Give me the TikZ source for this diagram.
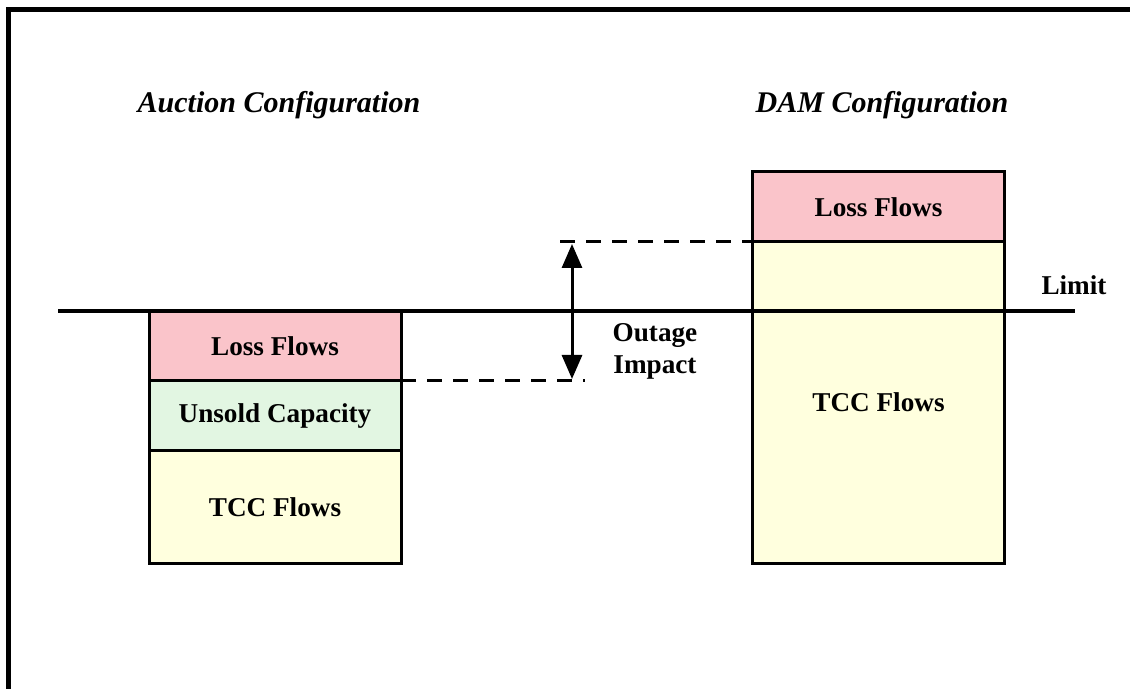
\documentclass[tikz,border=0pt]{standalone}
\usepackage{fontspec}
\setmainfont{Liberation Serif}
\usetikzlibrary{arrows.meta}

\definecolor{losspink}{RGB}{250,196,202}
\definecolor{unsoldgreen}{RGB}{226,246,226}
\definecolor{tccyellow}{RGB}{255,255,222}

\tikzset{
    flowbox/.style={draw, line width=1.5pt, inner sep=0pt, outer sep=0pt, minimum width=126pt,
        font=\fontsize{13.6}{16}\selectfont\bfseries},
    config/.style={font=\fontsize{15}{18}\selectfont\bfseries\itshape},
    marker/.style={line width=1.5pt, dash pattern=on 7.5pt off 5.5pt}
}

\begin{document}
\begin{tikzpicture}[x=0.5pt, y=-0.5pt]
        \useasboundingbox (0, 0) rectangle (1130, 689);
        \draw[line width=2.5pt] (1132, 9.8) to (8.5, 9.8) to (8.5, 692);

        %%titles
        \node[config] at(279, 105)(auction){Auction Configuration};
        \node[config] at(882, 105)(dam){DAM Configuration};

        %%bars
        \node[flowbox, fill=losspink, minimum height=34.5pt] at(275, 346.5)(lossA){Loss Flows};
        \node[flowbox, fill=unsoldgreen, minimum height=35pt] at(275, 416)(unsoldA){Unsold Capacity};
        \node[flowbox, fill=tccyellow, minimum height=56pt] at(275, 507)(tccA){TCC Flows};

        \node[flowbox, fill=losspink, minimum height=35pt] at(878.5, 207)(lossD){Loss Flows};
        \node[flowbox, fill=tccyellow, minimum height=160.5pt] at(878.5, 402.5)(tccD){TCC Flows};

        %%limit
        \coordinate (limitL) at(58, 311);
        \coordinate (limitR) at(1075, 311);
        \draw[line width=2pt] (limitL) to (limitR);
        \node[font=\fontsize{13.6}{16}\selectfont\bfseries] at(1074, 285)(limit){Limit};

        %%outage
        \coordinate (upper) at(560, 242);
        \coordinate (lower) at(585, 381);
        \draw[marker] (upper) to (lossD.south west);
        \draw[marker] (lossA.south east) to (lower);
        \coordinate (top) at(572, 244);
        \coordinate (bot) at(572, 379);
        \draw[line width=1.5pt, {Triangle[width=10pt,length=12pt]}-{Triangle[width=10pt,length=12pt]}] (top) to (bot);
        \node[font=\fontsize{13.6}{16}\selectfont\bfseries, align=center] at(655, 351)(outage){Outage\\Impact};
\end{tikzpicture}
\end{document}
